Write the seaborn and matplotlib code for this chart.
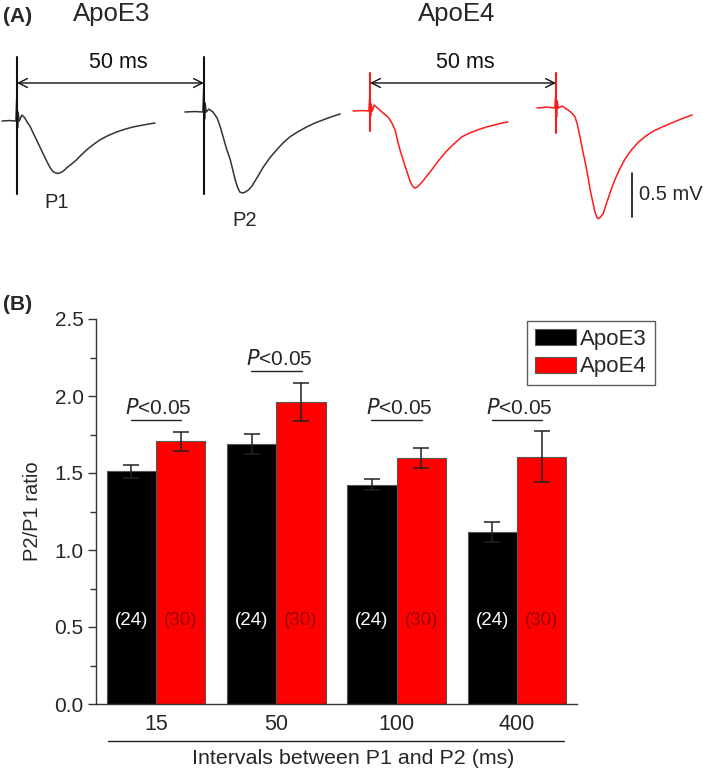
import numpy as np
import pandas as pd
import matplotlib
matplotlib.use("Agg")
import matplotlib.pyplot as plt
import seaborn as sns

# ---------------- data ----------------
intervals = ["15", "50", "100", "400"]
groups = ["ApoE3", "ApoE4"]
apoe3_ratio = [1.51, 1.69, 1.425, 1.12]
apoe3_sem = [0.04, 0.065, 0.035, 0.065]
apoe4_ratio = [1.705, 1.96, 1.60, 1.605]
apoe4_sem = [0.06, 0.125, 0.065, 0.165]
n_cells = [24, 30]
p_labels = ["<0.05", "<0.05", "<0.05", "<0.05"]

# example traces (time in ms from stimulus, voltage in mV from baseline)
e3_p1_t = [-4.0, -2.0, -0.3, 0.0, 0.15, 0.3, 0.6, 1.3, 2.0, 2.7, 3.5, 4.3, 5.2, 6.1, 7.0, 8.0, 8.8, 9.6, 10.3, 11.0, 11.8, 12.6, 13.4, 14.7, 16.0, 17.3, 18.7, 20.4, 22.2, 24.4, 26.7, 28.8, 31.0, 33.9, 36.9]
e3_p1_v = [0.0, 0.005, 0.0, 0.35, -0.08, 0.1, 0.0, 0.067, 0.04, -0.011, -0.06, -0.133, -0.21, -0.289, -0.37, -0.456, -0.52, -0.567, -0.583, -0.589, -0.578, -0.555, -0.522, -0.48, -0.433, -0.376, -0.322, -0.265, -0.211, -0.163, -0.122, -0.093, -0.067, -0.044, -0.022]
e3_p2_t = [-5.1, -2.5, -0.3, 0.0, 0.15, 0.3, 0.6, 1.3, 2.4, 3.5, 4.3, 5.1, 6.0, 7.0, 7.7, 8.3, 9.0, 9.6, 10.3, 11.0, 11.9, 12.8, 14.3, 15.8, 17.6, 19.5, 21.2, 23.0, 25.2, 27.5, 29.6, 31.8, 34.0, 36.4]
e3_p2_v = [0.0, 0.005, 0.0, 0.35, -0.08, 0.1, 0.0, 0.033, 0.0, -0.067, -0.16, -0.278, -0.41, -0.533, -0.65, -0.756, -0.85, -0.9, -0.91, -0.9, -0.875, -0.833, -0.73, -0.622, -0.515, -0.422, -0.345, -0.278, -0.22, -0.167, -0.125, -0.089, -0.055, -0.022]
e4_p1_t = [-4.5, -2.0, -0.3, 0.0, 0.15, 0.3, 0.6, 1.1, 2.1, 3.2, 4.8, 5.8, 6.7, 7.3, 8.0, 8.7, 9.4, 10.1, 10.7, 11.4, 12.0, 12.6, 13.2, 13.9, 15.2, 16.6, 18.3, 20.1, 22.3, 24.6, 26.8, 28.9, 31.1, 33.4, 35.1, 36.9]
e4_p1_v = [0.0, 0.005, 0.0, 0.2, -0.06, 0.08, 0.0, 0.067, 0.03, -0.011, -0.067, -0.13, -0.211, -0.32, -0.433, -0.53, -0.622, -0.71, -0.789, -0.845, -0.867, -0.855, -0.83, -0.8, -0.73, -0.656, -0.56, -0.467, -0.375, -0.289, -0.245, -0.211, -0.18, -0.156, -0.138, -0.122]
e4_p2_t = [-5.1, -2.5, -0.3, 0.0, 0.15, 0.3, 0.6, 1.6, 3.2, 4.2, 5.1, 5.8, 6.4, 7.1, 7.8, 8.5, 9.1, 9.8, 10.4, 10.9, 11.2, 11.7, 12.6, 13.2, 13.9, 14.8, 15.8, 17.0, 18.4, 20.1, 21.9, 23.8, 25.7, 28.3, 31.0, 33.7, 36.4]
e4_p2_v = [0.0, 0.01, 0.0, 0.2, -0.1, 0.08, 0.0, 0.022, -0.022, -0.055, -0.1, -0.2, -0.322, -0.47, -0.611, -0.76, -0.911, -1.05, -1.167, -1.225, -1.244, -1.235, -1.189, -1.11, -1.022, -0.91, -0.8, -0.69, -0.578, -0.475, -0.389, -0.322, -0.267, -0.215, -0.167, -0.12, -0.078]

# ---------------- figure ----------------
sns.set_theme(style="ticks")
plt.rcParams["font.family"] = ["Liberation Sans", "DejaVu Sans"]

W, H = 709, 772
fig = plt.figure(figsize=(W / 100, H / 100), dpi=100)

# ---------- panel A ----------
PX_MS = 3.74
PX_MV = 89.0
topH = 240
axA = fig.add_axes([0, 1 - topH / H, 1, topH / H])
x0px, y0px = 17, 121
axA.set_xlim(-x0px / PX_MS, (W - x0px) / PX_MS)
axA.set_ylim((y0px - topH) / PX_MV, y0px / PX_MV)
axA.axis("off")

def vpx(y):
    return (y0px - y) / PX_MV

def tpx(x):
    return (x - x0px) / PX_MS

traces = [
    (e3_p1_t, e3_p1_v, tpx(17), vpx(121), "#333333"),
    (e3_p2_t, e3_p2_v, tpx(204), vpx(112), "#333333"),
    (e4_p1_t, e4_p1_v, tpx(370), vpx(111), "#ff1a1a"),
    (e4_p2_t, e4_p2_v, tpx(556), vpx(108), "#ff1a1a"),
]
for t, v, dx, dy, c in traces:
    sns.lineplot(x=np.array(t) + dx, y=np.array(v) + dy, ax=axA, color=c,
                 lw=1.1, sort=False, estimator=None)

# stimulus lines
for xp, c, ya, yb in [(17, "#111111", 57, 194), (204, "#111111", 57, 194),
                      (370, "#ff1a1a", 73, 131), (556, "#ff1a1a", 73, 133)]:
    axA.plot([tpx(xp), tpx(xp)], [vpx(ya), vpx(yb)], color=c, lw=1.5)

# interval arrows
for xa, xb, tx in [(17, 204, 118), (370, 556, 465)]:
    axA.annotate("", xy=(tpx(xa), vpx(83)), xytext=(tpx(xb), vpx(83)),
                 arrowprops=dict(arrowstyle="<->", color="#111111", lw=1.0,
                                 mutation_scale=16, shrinkA=0, shrinkB=0))
    axA.text(tpx(tx), vpx(62), "50 ms", ha="center", va="center", fontsize=15.5, color="#111111")

axA.text(tpx(3), vpx(16), "(A)", ha="left", va="center", fontsize=15, fontweight="bold")
axA.text(tpx(112), vpx(14), groups[0], ha="center", va="center", fontsize=18.5)
axA.text(tpx(457), vpx(14), groups[1], ha="center", va="center", fontsize=18.5)
axA.text(tpx(57), vpx(202), "P1", ha="center", va="center", fontsize=14.5)
axA.text(tpx(245), vpx(220), "P2", ha="center", va="center", fontsize=14.5)
# scale bar
axA.plot([tpx(632), tpx(632)], [vpx(173), vpx(217)], color="#111111", lw=1.2)
axA.text(tpx(639), vpx(194), "0.5 mV", ha="left", va="center", fontsize=14.5)

# ---------- panel B ----------
axB = fig.add_axes([96 / W, 1 - 704 / H, 481 / W, 385 / H])
df = pd.DataFrame({
    "interval": intervals * 2,
    "group": [groups[0]] * 4 + [groups[1]] * 4,
    "ratio": apoe3_ratio + apoe4_ratio,
    "sem": apoe3_sem + apoe4_sem,
})
pal = {groups[0]: "#000000", groups[1]: "#ff0000"}
sns.barplot(data=df, x="interval", y="ratio", hue="group", order=intervals,
            hue_order=groups, palette=pal, width=0.82, gap=0, errorbar=None,
            edgecolor="#555555", linewidth=0.8, saturation=1, ax=axB)

bars = axB.patches[:8]
centers = [p.get_x() + p.get_width() / 2 for p in bars]
sem_all = apoe3_sem + apoe4_sem
val_all = apoe3_ratio + apoe4_ratio
for i in range(8):
    axB.errorbar(centers[i], val_all[i], yerr=sem_all[i], fmt="none",
                 ecolor="#222222", elinewidth=1.1, capsize=6, capthick=1.1, zorder=5)

# counts
for i in range(8):
    col = "white" if i < 4 else "#990000"
    axB.text(centers[i], 0.545, f"({n_cells[0] if i < 4 else n_cells[1]})",
             ha="center", va="center", fontsize=13.5, color=col,
             family=["Liberation Sans Narrow", "Liberation Sans", "DejaVu Sans"])

# significance
for k in range(4):
    yl = 2.162 if k == 1 else 1.844
    axB.plot([k - 0.21, k + 0.21], [yl, yl], color="#222222", lw=1.0)
    axB.text(k + 0.02, yl + 0.078, "$\\mathit{P}$" + p_labels[k], ha="center", va="center",
             fontsize=15, math_fontfamily="custom")

axB.set_xlim(-0.5, 3.5)
axB.set_ylim(0, 2.5)
axB.set_yticks([0, 0.5, 1.0, 1.5, 2.0, 2.5])
axB.set_yticklabels(["0.0", "0.5", "1.0", "1.5", "2.0", "2.5"])
axB.set_yticks(np.arange(0.25, 2.5, 0.5), minor=True)
axB.tick_params(axis="y", which="major", length=6, width=1, labelsize=15, pad=3, color="#333333")
axB.tick_params(axis="y", which="minor", length=4, width=1, color="#333333")
axB.tick_params(axis="x", which="major", length=0, labelsize=15.5, pad=7)
sns.despine(ax=axB)
for s in ["left", "bottom"]:
    axB.spines[s].set_color("#333333")
    axB.spines[s].set_linewidth(1.0)
axB.set_ylabel("P2/P1 ratio", fontsize=14.5)
axB.yaxis.set_label_coords(-64 / 481, 0.5)
axB.yaxis.label.set_va("center")
axB.set_xlabel("Intervals between P1 and P2 (ms)", fontsize=15.4,
               family=["Liberation Sans Narrow", "Liberation Sans", "DejaVu Sans"])
axB.xaxis.set_label_coords((353 - 96) / 481, (704 - 758) / 385)
axB.xaxis.label.set_va("center")
axB.plot([(108 - 96) / 481, (564 - 96) / 481], [(704 - 741) / 385] * 2,
         transform=axB.transAxes, clip_on=False, color="#222222", lw=1.0)
axB.text(-93 / 481, (704 - 305) / 385, "(B)", transform=axB.transAxes,
         ha="left", va="center", fontsize=15, fontweight="bold")

leg = axB.legend(loc="upper left", bbox_to_anchor=((527 - 96) / 481, (704 - 321) / 385),
                 borderaxespad=0, frameon=True, fancybox=False, fontsize=16,
                 handlelength=1.85, handleheight=0.75, handletextpad=0.2,
                 labelspacing=0.3, borderpad=0.35)
leg.get_frame().set_edgecolor("#333333")
leg.get_frame().set_linewidth(1.0)

fig.savefig("out.png", dpi=100)
